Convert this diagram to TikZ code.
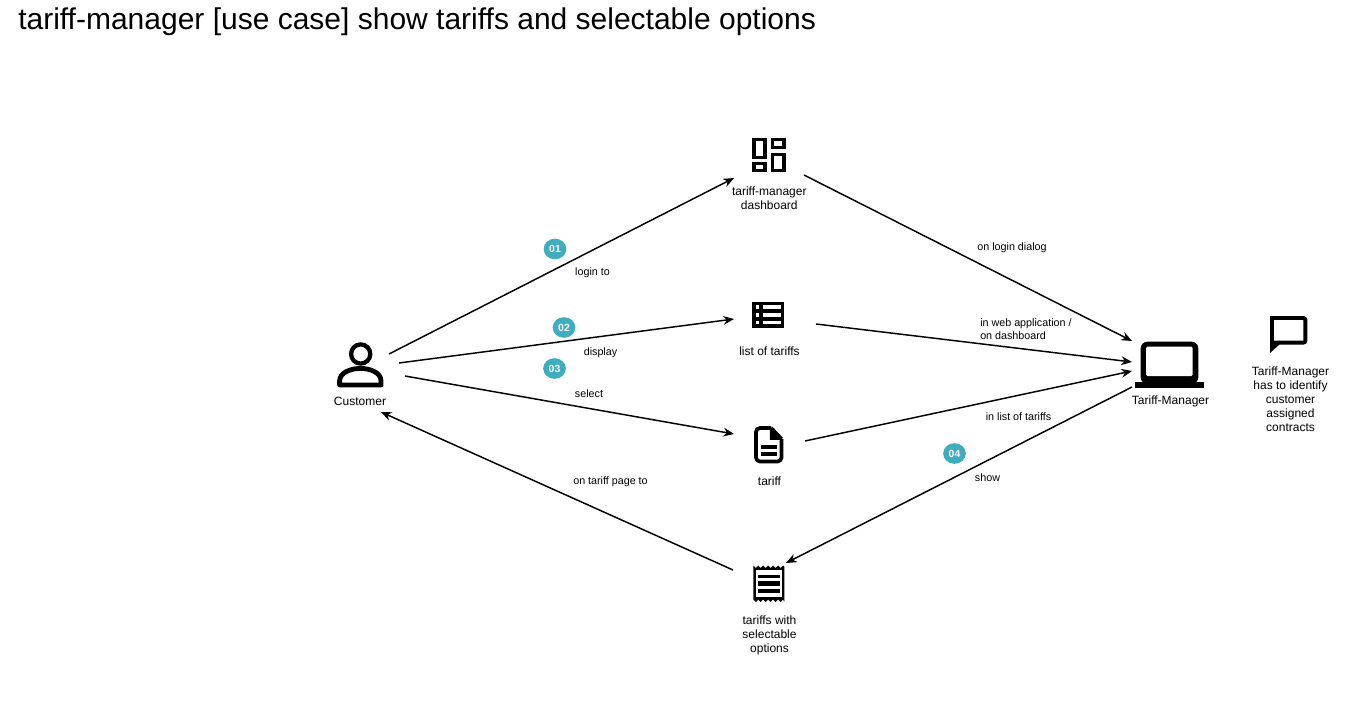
\documentclass[tikz,border=0pt]{standalone}
\usepackage{fontspec}
\setmainfont{Liberation Sans}
\usetikzlibrary{arrows.meta,shapes.geometric}
\definecolor{teal1}{HTML}{3FADBE}
\tikzset{
  anchorbox/.style={inner sep=0pt,minimum size=1pt},
  lab/.style={align=center,inner sep=0pt,font=\fontsize{9}{10.5}\selectfont},
  elab/.style={inner sep=0pt,font=\fontsize{8.05}{10}\selectfont},
  edge/.style={line width=1.1pt,-{Stealth[length=8pt,width=6.6pt]}},
  badge/.style={ellipse,fill=teal1,text=white,inner sep=0pt,minimum width=17pt,minimum height=15.5pt,font=\bfseries\fontsize{7.8}{9}\selectfont},
}
\begin{document}
\begin{tikzpicture}[x=0.75pt,y=-0.75pt]
\useasboundingbox (0,0) rectangle (1349,709);
\fill[white] (0,0) rectangle (1349,709);
% title
\node[anchor=west,inner sep=0pt,font=\fontsize{22.5}{26}\selectfont] (title) at (18,22) {tariff-manager [use case] show tariffs and selectable options};
% anchor nodes
\node[anchorbox] (cust) at (360,369) {};
\node[anchorbox] (dash) at (769,155) {};
\node[anchorbox] (list) at (769,315) {};
\node[anchorbox] (tariff) at (769,445) {};
\node[anchorbox] (receipt) at (769,584) {};
\node[anchorbox] (tm) at (1170,365) {};
% customer icon
\draw[line width=3.2pt] (360.7,354) circle[radius=9.6];
\draw[line width=3.6pt,line join=round] (339.6,385) -- (339.6,381) .. controls (339.6,372.5) and (351,368.4) .. (360.4,368.4) .. controls (370,368.4) and (381,372.5) .. (381,381) -- (381,385) -- cycle;
% dashboard icon
\begin{scope}[line width=2.6pt]
\draw (754,139.7) rectangle (765,157.4);
\draw (772.4,139.7) rectangle (784,147.6);
\draw (754,163.6) rectangle (765,170.3);
\draw (772.4,154.4) rectangle (784,170.3);
\end{scope}
% list icon
\fill (752.3,302.3) rectangle (784,328.3);
\fill[white] (755.7,305) rectangle (759.3,309);
\fill[white] (763.3,305) rectangle (780.7,309);
\fill[white] (755.7,313) rectangle (759.3,317);
\fill[white] (763.3,313) rectangle (780.7,317);
\fill[white] (755.7,320.7) rectangle (759.3,324.3);
\fill[white] (763.3,320.7) rectangle (780.7,324.3);
% tariff doc icon
\draw[line width=2.8pt,line join=round,rounded corners=3pt] (771,428) -- (756,428) -- (756,461.5) -- (781.5,461.5) -- (781.5,439);
\draw[line width=2.8pt,line join=round] (771,428) -- (781.5,439);
\fill (769.8,426.5) -- (783.3,439.8) -- (769.8,439.8) -- cycle;
\fill (761,445) rectangle (776.7,449);
\fill (761,452.3) rectangle (776.7,456.3);
% receipt icon
\fill (753.3,565.5) -- (756,568) -- (758.2,565.5) -- (760.7,568) -- (763.2,565.5) -- (765.7,568) -- (768.2,565.5) -- (770.7,568) -- (773.2,565.5) -- (775.7,568) -- (778.2,565.5) -- (780.7,568) -- (783,565.5) -- (784.3,566.5)
 -- (784.3,601.5) -- (783,599.5) -- (780.7,602) -- (778.2,599.5) -- (775.7,602) -- (773.2,599.5) -- (770.7,602) -- (768.2,599.5) -- (765.7,602) -- (763.2,599.5) -- (760.7,602) -- (758.2,599.5) -- (756,602) -- (753.3,599.5) -- cycle;
\fill[white] (755.7,570) rectangle (782.3,597.3);
\fill (758.3,574.5) rectangle (780,578.3);
\fill (758.3,581) rectangle (780,585.5);
\fill (758.3,588.5) rectangle (780,593.3);
% laptop icon
\fill[rounded corners=5pt] (1140.7,341.7) rectangle (1198.3,384);
\fill[white,rounded corners=1pt] (1146,346.7) rectangle (1192.7,376);
\fill (1135,381.7) rectangle (1204,387.7);
% note icon
\draw[line width=2.9pt,line join=miter,rounded corners=1.5pt] (1271.9,318) -- (1305.4,318) -- (1305.4,342.6) -- (1279,342.6);
\fill (1270,316.1) rectangle (1273.8,353);
\fill[white] (1273.8,346) -- (1273.8,353.5) -- (1269.5,353.5) -- (1269.5,353) -- cycle;
\fill (1270,353) -- (1279.5,344.4) -- (1279.5,340.7) -- (1273.8,340.7) -- (1270,345) -- cycle;
% labels
\node[lab] (ldash) at (769.3,198) {tariff-manager\\dashboard};
\node[lab] (llist) at (769.5,351) {list of tariffs};
\node[lab] (ltariff) at (769.5,481) {tariff};
\node[lab] (lreceipt) at (769.5,635.5) {tariffs with\\selectable\\options};
\node[lab] (lcust) at (360,401) {Customer};
\node[lab] (ltm) at (1170.5,401.7) {Tariff-Manager};
\node[lab] (lnote) at (1290.5,399) {Tariff-Manager\\has to identify\\customer\\assigned\\contracts};
% connectors
\draw[edge] ([shift={(29,-15)}]cust.center) -- ([shift={(-35,23)}]dash.center);
\draw[edge] ([shift={(39,-6)}]cust.center) -- ([shift={(-35,4)}]list.center);
\draw[edge] ([shift={(45,7)}]cust.center) -- ([shift={(-35,-11)}]tariff.center);
\draw[edge] ([shift={(-36,-14)}]receipt.center) -- ([shift={(21,43)}]cust.center);
\draw[edge] ([shift={(35,20)}]dash.center) -- ([shift={(-38,-24)}]tm.center);
\draw[edge] ([shift={(47,9)}]list.center) -- ([shift={(-38,-3)}]tm.center);
\draw[edge] ([shift={(36,-4)}]tariff.center) -- ([shift={(-38,6)}]tm.center);
\draw[edge] ([shift={(-38,22)}]tm.center) -- ([shift={(17,-21)}]receipt.center);
% edge labels
\node[elab] (e1) at (592.5,273) {login to};
\node[elab] (e2) at (600.5,352.5) {display};
\node[elab] (e3) at (589,393.3) {select};
\node[elab] (e4) at (610.5,481.5) {on tariff page to};
\node[elab] (e5) at (1012,247.5) {on login dialog};
\node[elab,anchor=west,align=left] (e6) at (980,329) {in web application /\\on dashboard};
\node[elab] (e7) at (1018.5,417) {in list of tariffs};
\node[elab] (e8) at (987.5,478) {show};
% badges
\node[badge] (b1) at (555,249) {01};
\node[badge] (b2) at (564,327.5) {02};
\node[badge] (b3) at (554.5,368.5) {03};
\node[badge] (b4) at (954.5,453.5) {04};
\end{tikzpicture}
\end{document}
